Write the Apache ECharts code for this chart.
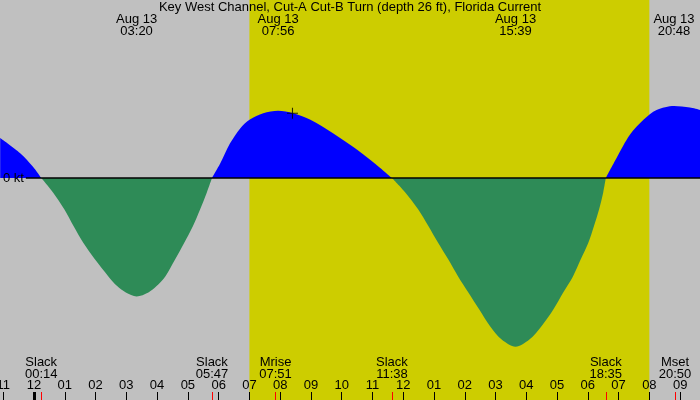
<!DOCTYPE html>
<html>
<head>
<meta charset="utf-8">
<script src="https://cdn.jsdelivr.net/npm/echarts@6/dist/echarts.min.js"></script>
<style>
  html, body { margin: 0; padding: 0; background: #c0c0c0; }
  #chart { width: 700px; height: 400px; }
</style>
</head>
<body>
<div id="chart"></div>
<script>
// 时间单位：分钟（以 Aug 13 00:00 为 0）
const minutes = [
  -66, -27, -2, 14,
  37, 59, 77, 96, 119, 145, 162, 179, 200, 223, 239, 256, 275, 293, 310, 324, 337, 347,
  363, 382, 402, 421, 447, 476, 505, 538, 583, 622, 661, 698,
  724, 749, 769, 788, 808, 827, 847, 868, 889, 912, 939, 966, 990, 1013, 1032, 1051, 1066, 1081, 1092, 1102, 1110, 1115,
  1136, 1162, 1189, 1214, 1248, 1279, 1299
]
// 流速 (kt)，正值为涨流，负值为落流
const speed = [
  0.50, 0.31, 0.14, 0,
  -0.18, -0.39, -0.60, -0.81, -1.02, -1.23, -1.35, -1.43, -1.48, -1.43, -1.35, -1.23, -1.02, -0.81, -0.60, -0.39, -0.18, 0,
  0.18, 0.43, 0.62, 0.73, 0.81, 0.84, 0.81, 0.73, 0.56, 0.39, 0.20, 0,
  -0.18, -0.39, -0.60, -0.81, -1.02, -1.23, -1.43, -1.64, -1.85, -2.02, -2.11, -2.02, -1.85, -1.64, -1.43, -1.23, -1.02, -0.81, -0.60, -0.39, -0.18, 0,
  0.25, 0.54, 0.73, 0.85, 0.90, 0.88, 0.85
]

const extremeTimes = [200, 476, 939, 1248]
const extremeLabels = ['03:20', '07:56', '15:39', '20:48']
const eventTimes = [14, 347, 471, 698, 1115, 1250]
const eventNames = ['Slack', 'Slack', 'Mrise', 'Slack', 'Slack', 'Mset']
const eventLabels = ['00:14', '05:47', '07:51', '11:38', '18:35', '20:50']
const dayStart = 420
const dayEnd = 1200
const dateMarks = [0]
const markerPoint = [504, 0.81]

const FONT = 'Liberation Sans'

function hourLabel(v) {
  const h = ((Math.round(v / 60) % 24) + 24) % 24
  const h12 = h % 12 || 12
  return String(h12).padStart(2, '0')
}

const flood = minutes.map((t, i) => [t, speed[i] >= 0 ? speed[i] : '-'])
const ebb = minutes.map((t, i) => [t, speed[i] <= 0 ? speed[i] : '-'])

const baseAxis = {
  type: 'value',
  min: -120,
  max: 1320,
  gridIndex: 0,
  z: 10,
  splitLine: { show: false },
  axisLine: { show: false, onZero: false }
}

const option = {
  animation: false,
  backgroundColor: '#c0c0c0',
  title: {
    text: 'Key West Channel, Cut-A Cut-B Turn (depth 26 ft), Florida Current',
    left: 'center',
    top: 0,
    padding: 0,
    z: 10,
    textStyle: { fontFamily: FONT, fontSize: 13, fontWeight: 'normal', color: '#000', lineHeight: 14 }
  },
  grid: {
    left: -27.5, right: -10.9, top: 0, bottom: 0,
    containLabel: false,
    outerBoundsMode: 'none'
  },
  xAxis: [
    {
      ...baseAxis,
      position: 'bottom',
      interval: 60,
      axisTick: { show: true, inside: true, length: 8, lineStyle: { color: '#000', width: 1 } },
      axisLabel: {
        inside: true, margin: 8, fontFamily: FONT, fontSize: 13, color: '#000',
        formatter: hourLabel
      }
    },
    {
      ...baseAxis,
      position: 'bottom',
      axisTick: {
        show: true, inside: true, length: 8, customValues: eventTimes,
        lineStyle: { color: '#ff0000', width: 1 }
      },
      axisLabel: {
        inside: true, margin: 20, fontFamily: FONT, fontSize: 13, color: '#000', lineHeight: 12,
        customValues: eventTimes,
        formatter: v => {
          const i = eventTimes.indexOf(v)
          return i < 0 ? '' : eventNames[i] + '\n' + eventLabels[i]
        }
      }
    },
    {
      ...baseAxis,
      position: 'bottom',
      axisTick: {
        show: true, inside: true, length: 8, customValues: dateMarks,
        lineStyle: { color: '#000', width: 3 }
      },
      axisLabel: { show: false }
    },
    {
      ...baseAxis,
      position: 'top',
      axisTick: { show: false },
      axisLabel: {
        inside: true, margin: 13, fontFamily: FONT, fontSize: 13, color: '#000', lineHeight: 12,
        customValues: extremeTimes,
        formatter: v => {
          const i = extremeTimes.indexOf(v)
          return i < 0 ? '' : 'Aug 13\n' + extremeLabels[i]
        }
      }
    }
  ],
  yAxis: {
    type: 'value',
    min: -2.775,
    max: 2.225,
    show: false
  },
  series: [
    {
      name: 'day',
      type: 'line',
      data: [],
      z: 1,
      silent: true,
      markArea: {
        silent: true,
        itemStyle: { color: '#cdcd00' },
        data: [[{ xAxis: dayStart }, { xAxis: dayEnd }]]
      }
    },
    {
      name: 'flood',
      type: 'line',
      data: flood,
      z: 2,
      smooth: 0.3,
      showSymbol: false,
      connectNulls: false,
      lineStyle: { width: 0 },
      areaStyle: { color: '#0000ff', opacity: 1 },
      markLine: {
        silent: true,
        symbol: 'none',
        lineStyle: { color: '#000', width: 1.5, type: 'solid' },
        label: {
          show: true, position: 'start', distance: 2, formatter: '0 kt',
          fontFamily: FONT, fontSize: 13, color: '#000'
        },
        data: [[{ coord: [-16, 0] }, { coord: [1320, 0] }]]
      }
    },
    {
      name: 'ebb',
      type: 'line',
      data: ebb,
      z: 3,
      smooth: 0.3,
      showSymbol: false,
      connectNulls: false,
      lineStyle: { width: 0 },
      areaStyle: { color: '#2e8b57', opacity: 1 }
    },
    {
      name: 'marker',
      type: 'scatter',
      z: 4,
      silent: true,
      data: [markerPoint],
      symbol: 'path://M0,4.5H10V5.5H0ZM4.5,0H5.5V10H4.5Z',
      symbolSize: 11,
      itemStyle: { color: '#000' }
    }
  ]
}

const chart = echarts.init(document.getElementById('chart'), null, { renderer: 'canvas' })
chart.setOption(option)
</script>
</body>
</html>
